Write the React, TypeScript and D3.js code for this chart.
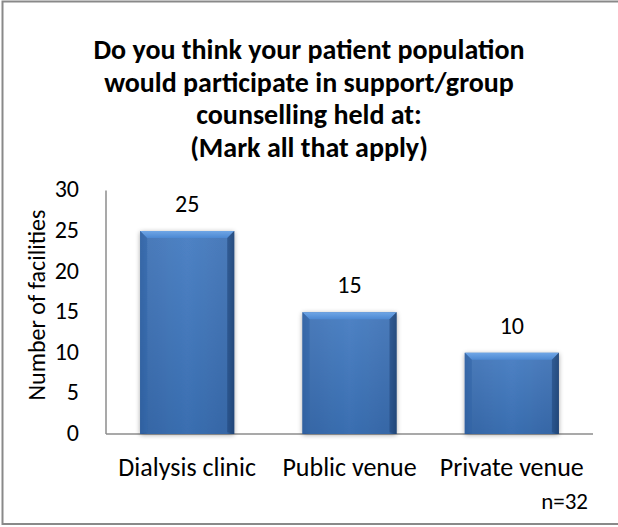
import React from "react";
import * as d3 from "d3";

const categories = ["Dialysis clinic", "Public venue", "Private venue"];
const values = [25, 15, 10];
const yTicks = [0, 5, 10, 15, 20, 25, 30];
const titleLines = [
  "Do you think your patient population",
  "would participate in support/group",
  "counselling held at:",
  "(Mark all that apply)",
];
const yLabel = "Number of facilities";
const note = "n=32";

const W = 618;
const H = 527;
const left = 106;
const right = 593;
const top = 190.4;
const bottom = 434;
const font = "Carlito, Calibri, Lato, 'Open Sans', sans-serif";

export default function App() {
  const x = d3.scaleBand<string>().domain(categories).range([left, right]).paddingInner(0.42).paddingOuter(0.21);
  const y = d3.scaleLinear().domain([0, 30]).range([bottom, top]);
  const bw = x.bandwidth();
  const bev = 7;
  return (
    <div style={{ position: "absolute", left: 0, top: 0 }}>
      <svg width={W} height={H} style={{ display: "block" }}>
        <defs>
          <linearGradient id="bodyG" x1="0" x2="1" y1="0" y2="0">
            <stop offset="0" stopColor="#2d5c9c" />
            <stop offset="0.08" stopColor="#3a6fb4" />
            <stop offset="0.5" stopColor="#3f78c0" />
            <stop offset="0.92" stopColor="#3a6fb4" />
            <stop offset="1" stopColor="#1f4676" />
          </linearGradient>
          <linearGradient id="vG" x1="0" x2="0" y1="0" y2="1">
            <stop offset="0" stopColor="#ffffff" stopOpacity="0.08" />
            <stop offset="1" stopColor="#000000" stopOpacity="0.08" />
          </linearGradient>
          <linearGradient id="topG" x1="0" x2="0" y1="0" y2="1">
            <stop offset="0" stopColor="#6fa6e6" />
            <stop offset="1" stopColor="#4c88d2" />
          </linearGradient>
          <filter id="sh" x="-20%" y="-10%" width="140%" height="120%">
            <feGaussianBlur in="SourceAlpha" stdDeviation="2.5" />
            <feOffset dx="0" dy="1" result="b" />
            <feComponentTransfer><feFuncA type="linear" slope="0.35" /></feComponentTransfer>
            <feMerge>
              <feMergeNode />
              <feMergeNode in="SourceGraphic" />
            </feMerge>
          </filter>
        </defs>
        <rect x={0} y={0} width={W} height={H} fill="#ffffff" />
        <rect x={2.5} y={1.5} width={W + 10} height={522.5} fill="none" stroke="#898989" strokeWidth={2} />
        {titleLines.map((t, i) => (
          <text key={i} x={309} y={59 + i * 32.5} textAnchor="middle" fontFamily={font} fontWeight="bold" fontSize={28} fill="#000">
            {t}
          </text>
        ))}
        {/* axes */}
        <line x1={left} x2={left} y1={top} y2={bottom} stroke="#8c8c8c" strokeWidth={1.5} />
        <line x1={left} x2={right} y1={bottom} y2={bottom} stroke="#8c8c8c" strokeWidth={1.5} />
        {yTicks.map((t) => (
          <text key={t} x={79} y={y(t) + 7} textAnchor="end" fontFamily={font} fontSize={24} fill="#000">
            {t}
          </text>
        ))}
        <text transform={`translate(45,${305}) rotate(-90)`} textAnchor="middle" fontFamily={font} fontSize={24} fill="#000">
          {yLabel}
        </text>
        {categories.map((c, i) => {
          const x0 = x(c)!;
          const y0 = y(values[i]);
          const h = bottom - y0;
          return (
            <g key={c}>
              <g filter="url(#sh)">
                <rect x={x0} y={y0} width={bw} height={h} fill="url(#bodyG)" />
              </g>
              <rect x={x0} y={y0} width={bw} height={h} fill="url(#vG)" />
              <polygon points={`${x0},${y0} ${x0 + bw},${y0} ${x0 + bw - bev},${y0 + bev} ${x0 + bev},${y0 + bev}`} fill="url(#topG)" />
              <polygon points={`${x0},${y0} ${x0 + bev},${y0 + bev} ${x0 + bev},${bottom - 2} ${x0},${bottom}`} fill="#3467aa" opacity={0.6} />
              <polygon points={`${x0 + bw},${y0} ${x0 + bw - bev},${y0 + bev} ${x0 + bw - bev},${bottom - 2} ${x0 + bw},${bottom}`} fill="#23497e" opacity={0.6} />
              <text x={x0 + bw / 2} y={y0 - 19} textAnchor="middle" fontFamily={font} fontSize={24} fill="#000">
                {values[i]}
              </text>
              <text x={x0 + bw / 2} y={476} textAnchor="middle" fontFamily={font} fontSize={26} fill="#000">
                {c}
              </text>
            </g>
          );
        })}
        <text x={588} y={509} textAnchor="end" fontFamily={font} fontSize={23} fill="#000">
          {note}
        </text>
      </svg>
    </div>
  );
}
